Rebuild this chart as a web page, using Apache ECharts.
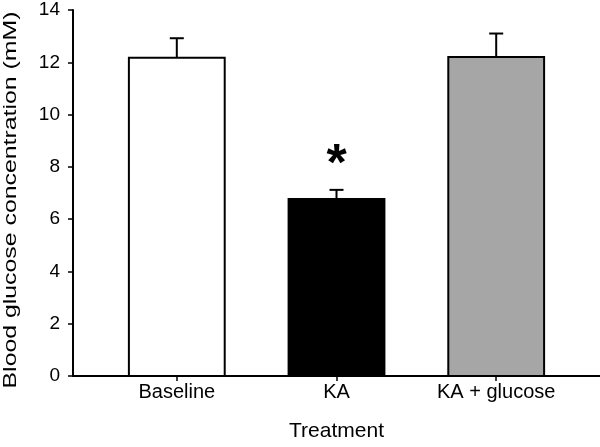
<!DOCTYPE html>
<html>
<head>
<meta charset="utf-8">
<script src="https://cdn.jsdelivr.net/npm/echarts@6/dist/echarts.min.js"></script>
<style>html,body{margin:0;padding:0;background:#fff}#c{width:600px;height:447px}</style>
</head>
<body>
<div id="c"></div>
<script>
var categories = ['Baseline', 'KA', 'KA + glucose'];
var means = [12.17, 6.77, 12.2];
var errors = [0.75, 0.35, 0.9];
var barColors = ['#ffffff', '#000000', '#a6a6a6'];
var marks = ['', '*', ''];
var yTicks = [0, 2, 4, 6, 8, 10, 12, 14];

var data = categories.map(function (c, i) { return [i, means[i], errors[i]]; });
var chart = echarts.init(document.getElementById('c'), null, {renderer: 'canvas'});
var FONT = 'Liberation Sans, Arial, sans-serif';
chart.setOption({
  animation: false,
  backgroundColor: '#fff',
  grid: {left: 73, right: 0, top: 10, bottom: 69},
  xAxis: {
    type: 'value', min: -0.65, max: 2.65,
    splitLine: {show: false},
    axisLine: {show: true, onZero: false, lineStyle: {color: '#000', width: 2}},
    axisTick: {show: true, customValues: [0, 1, 2], length: 5, lineStyle: {color: '#000', width: 1.5}},
    axisLabel: {customValues: [0, 1, 2], color: '#000', fontSize: 20, fontFamily: FONT, margin: 6,
      formatter: function (v) { return categories[Math.round(v)]; }},
    name: 'Treatment', nameLocation: 'middle', nameGap: 45,
    nameTextStyle: {color: '#000', fontSize: 21, fontFamily: FONT}
  },
  yAxis: {
    type: 'value', min: yTicks[0], max: yTicks[yTicks.length - 1], interval: 2,
    splitLine: {show: false},
    axisLine: {show: true, onZero: false, lineStyle: {color: '#000', width: 2}},
    axisTick: {show: true, length: 5, lineStyle: {color: '#000', width: 1.5}},
    axisLabel: {color: '#000', fontSize: 19, fontFamily: FONT, margin: 13}
  },
  graphic: [{
    type: 'text', x: 11, y: 200, rotation: Math.PI / 2, scaleX: 1.38,
    style: {text: 'Blood glucose concentration (mM)', fill: '#000', font: '18px ' + FONT,
      align: 'center', verticalAlign: 'middle'}
  }],
  series: [{
    type: 'custom',
    data: data,
    encode: {x: 0, y: 1},
    renderItem: function (params, api) {
      var i = params.dataIndex;
      var x = api.value(0), m = api.value(1), e = api.value(2);
      var base = api.coord([x, 0]);
      var top = api.coord([x, m]);
      var et = api.coord([x, m + e]);
      var w = api.size([0.6, 0])[0];
      var cap = 7;
      var children = [
        {type: 'rect', shape: {x: base[0] - w / 2, y: top[1], width: w, height: base[1] - top[1]},
          style: {fill: barColors[i], stroke: '#000', lineWidth: 2}},
        {type: 'line', shape: {x1: top[0], y1: top[1], x2: et[0], y2: et[1]},
          style: {stroke: '#000', lineWidth: 2}},
        {type: 'line', shape: {x1: et[0] - cap, y1: et[1], x2: et[0] + cap, y2: et[1]},
          style: {stroke: '#000', lineWidth: 2}}
      ];
      if (marks[i]) {
        children.push({type: 'text', x: et[0], y: et[1] - 24,
          style: {text: marks[i], fill: '#000', font: 'bold 52px ' + FONT, align: 'center', verticalAlign: 'middle'}});
      }
      return {type: 'group', children: children};
    }
  }]
});
</script>
</body>
</html>
